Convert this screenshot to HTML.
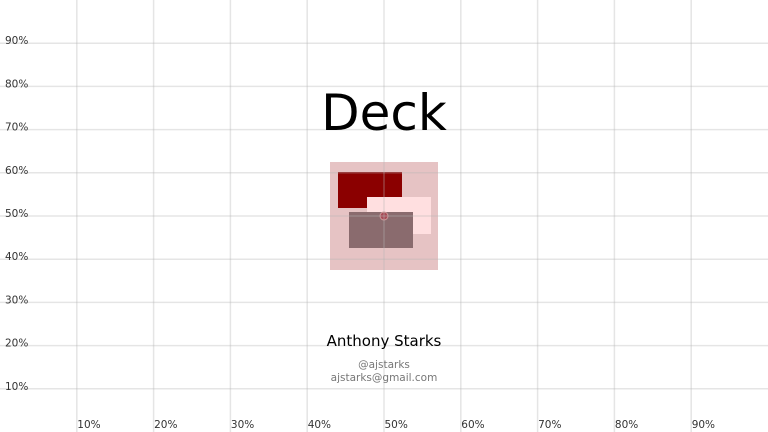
<!DOCTYPE html>
<html><head><meta charset="utf-8"><style>
html,body{margin:0;padding:0;background:#fff;}
svg{display:block;font-family:"DejaVu Sans","Liberation Sans",sans-serif;}
</style></head><body>
<svg id="c" width="768" height="432" viewBox="0 0 768 432">
<g id="logo">
<rect x="330" y="162" width="108" height="108" fill="#e6c3c4"/>
<rect x="338" y="172" width="64" height="36" fill="#8b0000"/>
<rect x="367" y="197" width="64" height="37" fill="#ffdfe0"/>
<rect x="349" y="212" width="64" height="36" fill="#8a6b6e"/>
<circle cx="384" cy="216" r="4" fill="#a84a55" stroke="#c99" stroke-width="1"/>
</g>
<g id="grid"></g>
<text x="384" y="130" text-anchor="middle" font-size="50" fill="#000">Deck</text>
<text x="384" y="346" text-anchor="middle" font-size="15" fill="#000">Anthony Starks</text>
<text x="384" y="368" text-anchor="middle" font-size="10.5" fill="#777">@ajstarks</text>
<text x="384" y="381" text-anchor="middle" font-size="10.5" fill="#777">ajstarks@gmail.com</text>
</svg>
<script>
const xTicks = [10,20,30,40,50,60,70,80,90];
const yTicks = [10,20,30,40,50,60,70,80,90];
const W = 768, H = 432;
const sx = p => W * p / 100;
const sy = p => H * (1 - p / 100);
const NS = 'http://www.w3.org/2000/svg';
const g = document.getElementById('grid');
xTicks.forEach(t => {
  const l = document.createElementNS(NS, 'line');
  
  
  l.setAttribute('x1', sx(t)); l.setAttribute('x2', sx(t));
  l.setAttribute('y1', 0); l.setAttribute('y2', H);
  l.setAttribute('stroke', 'rgba(180,180,180,0.35)'); l.setAttribute('stroke-width', '1.5');
  g.appendChild(l);
  const tx = document.createElementNS(NS, 'text');
  
  
  tx.setAttribute('x', sx(t) + 0.5); tx.setAttribute('y', 428);
  tx.setAttribute('font-size', '10.5'); tx.setAttribute('fill', '#333');
  tx.textContent = t + '%';
  g.appendChild(tx);
});
yTicks.forEach(t => {
  const l = document.createElementNS(NS, 'line');
  
  
  l.setAttribute('y1', sy(t)); l.setAttribute('y2', sy(t));
  l.setAttribute('x1', 0); l.setAttribute('x2', W);
  l.setAttribute('stroke', 'rgba(180,180,180,0.35)'); l.setAttribute('stroke-width', '1.5');
  g.appendChild(l);
  const tx = document.createElementNS(NS, 'text');
  
  
  tx.setAttribute('x', 5); tx.setAttribute('y', sy(t) + 1);
  tx.setAttribute('font-size', '10.5'); tx.setAttribute('fill', '#333');
  tx.textContent = t + '%';
  g.appendChild(tx);
});
</script>
</body></html>
